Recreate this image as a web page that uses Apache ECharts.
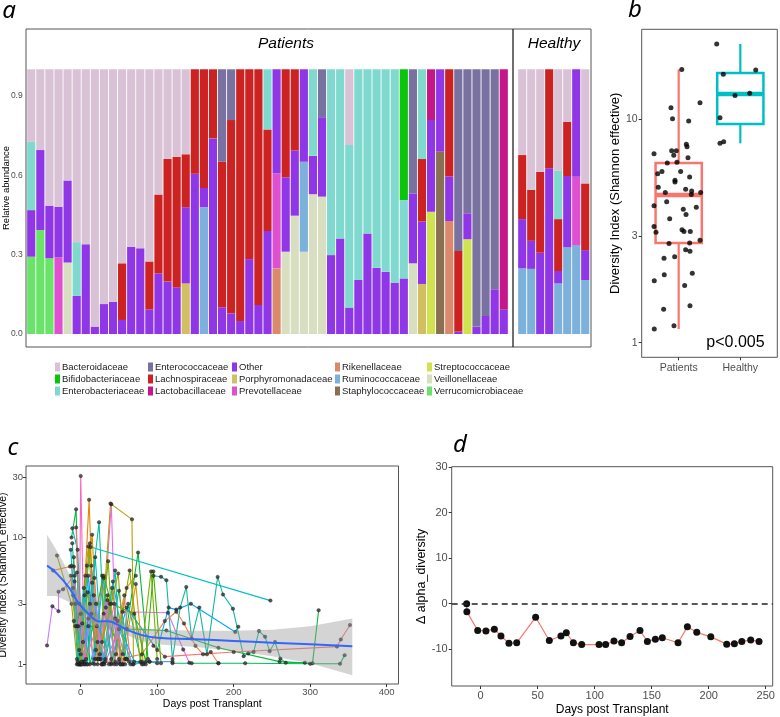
<!DOCTYPE html>
<html><head><meta charset="utf-8">
<script src="https://cdn.jsdelivr.net/npm/echarts@6/dist/echarts.min.js"></script>
<style>html,body{margin:0;padding:0;background:#fff}#c{width:780px;height:717px}</style>
</head><body><div id="c"></div><script>
// ---------- Panel a: relative abundance ----------
const families = ['Bacteroidaceae','Bifidobacteriaceae','Enterobacteriaceae','Enterococcaceae','Lachnospiraceae','Lactobacillaceae','Other','Porphyromonadaceae','Prevotellaceae','Rikenellaceae','Ruminococcaceae','Staphylococcaceae','Streptococcaceae','Veillonellaceae','Verrucomicrobiaceae'];
const familyColors = ['#D9C2D5','#0BC50B','#7FD9CF','#7971A0','#CC2222','#C5168A','#8F37E6','#D2BF62','#DE50D0','#DA896A','#7CB1DC','#8A7052','#D1E24F','#D8DEC0','#69E469'];
const patientIds = ['P1','P2','P3','P4','P5','P6','P7','P8','P9','P10','P11','P12','P13','P14','P15','P16','P17','P18','P19','P20','P21','P22','P23','P24','P25','P26','P27','P28','P29','P30','P31','P32','P33','P34','P35','P36','P37','P38','P39','P40','P41','P42','P43','P44','P45','P46','P47','P48','P49','P50','P51','P52','P53'];
const healthyIds = ['H1','H2','H3','H4','H5','H6','H7','H8'];

const bacteroidaceaeP = [.274,.305,.515,.519,.420,.653,.661,.972,.887,.878, .733,.670,.676,.726,.473,.339,.330,.321,0,0, 0,0,0,0,0,0,0,0,0,0, 0,0,0,0,0,.286,0,0,0,0, 0,0,0,0,0,0,0,0,0,0, 0,0,0];
const bifidobacteriaceaeP = [0,0,0,0,0,0,0,0,0,0, 0,0,0,0,0,0,0,0,0,0, 0,0,0,0,0,0,0,0,0,0, 0,0,0,0,0,0,0,0,0,0, 0,.494,0,0,0,0,0,0,0,0, 0,0,0];
const enterobacteriaceaeP = [.258,0,0,0,0,.203,0,0,0,0, 0,0,0,0,0,0,0,0,0,0, 0,0,0,0,0,0,.227,0,0,0, 0,.327,0,.702,.639,.614,.796,.620,.750,.765, .806,.296,0,.339,0,0,0,0,0,0, 0,0,0];
const enterococcaceaeP = [0,0,0,0,0,0,0,0,0,0, 0,0,0,0,0,0,0,0,0,0, 0,.349,.192,0,0,0,0,0,0,0, 0,0,.181,0,0,0,0,0,0,0, 0,0,.469,0,0,0,0,.686,.544,.972, .932,.831,0];
const lachnospiraceaeP = [0,0,0,0,0,0,0,0,0,0, .214,0,0,.181,.298,.463,.494,.200,.395,.448, .261,.550,.730,.951,.717,.890,.384,0,.408,.307, 0,0,0,0,0,0,0,0,0,0, 0,0,0,.236,0,0,.405,.305,0,0, 0,0,0];
const lactobacillaceaeP = [0,0,0,0,0,0,0,0,0,0, 0,0,0,0,0,0,0,0,0,0, 0,0,0,0,0,0,0,0,0,0, 0,0,0,0,0,0,0,0,0,0, 0,0,0,0,.192,0,0,0,0,0, 0,0,.907];
const otherP = [.176,.302,.199,.191,.310,.144,.339,.028,.113,.122, .053,.330,.324,.093,.229,.198,.176,.288,.605,.073, .739,.101,.078,.049,.283,.110,.389,.393,.281,.246, .349,.145,.300,.298,.361,.100,.204,.380,.250,.235, .194,.210,.264,.236,.346,.311,.168,.009,.098,.028, .068,.169,.093];
const porphyromonadaceaeP = [0,0,0,0,0,0,0,0,0,0, 0,0,0,0,0,0,0,.191,0,0, 0,0,0,0,0,0,0,0,0,0, 0,0,0,0,0,0,0,0,0,0, 0,0,0,.189,0,0,0,0,0,0, 0,0,0];
const prevotellaceaeP = [0,0,0,.290,0,0,0,0,0,0, 0,0,0,0,0,0,0,0,0,0, 0,0,0,0,0,0,0,.359,0,0, 0,0,0,0,0,0,0,0,0,0, 0,0,0,0,0,0,0,0,0,0, 0,0,0];
const rikenellaceaeP = [0,0,0,0,0,0,0,0,0,0, 0,0,0,0,0,0,0,0,0,0, 0,0,0,0,0,0,0,.248,0,0, 0,0,0,0,0,0,0,0,0,0, 0,0,0,0,0,0,.427,0,0,0, 0,0,0];
const ruminococcaceaeP = [0,0,0,0,0,0,0,0,0,0, 0,0,0,0,0,0,0,0,0,.479, 0,0,0,0,0,0,0,0,0,0, .340,0,0,0,0,0,0,0,0,0, 0,0,0,0,0,0,0,0,0,0, 0,0,0];
const staphylococcaceaeP = [0,0,0,0,0,0,0,0,0,0, 0,0,0,0,0,0,0,0,0,0, 0,0,0,0,0,0,0,0,0,0, 0,0,0,0,0,0,0,0,0,0, 0,0,0,0,0,.689,0,0,0,0, 0,0,0];
const streptococcaceaeP = [0,0,0,0,0,0,0,0,0,0, 0,0,0,0,0,0,0,0,0,0, 0,0,0,0,0,0,0,0,0,0, 0,0,0,0,0,0,0,0,0,0, 0,0,0,0,.462,0,0,0,.358,0, 0,0,0];
const veillonellaceaeP = [0,0,0,0,.270,0,0,0,0,0, 0,0,0,0,0,0,0,0,0,0, 0,0,0,0,0,0,0,0,.311,.447, .311,.528,.519,0,0,0,0,0,0,0, 0,0,.267,0,0,0,0,0,0,0, 0,0,0];
const verrucomicrobiaceaeP = [.292,.393,.286,0,0,0,0,0,0,0, 0,0,0,0,0,0,0,0,0,0, 0,0,0,0,0,0,0,0,0,0, 0,0,0,0,0,0,0,0,0,0, 0,0,0,0,0,0,0,0,0,0, 0,0,0];

const bacteroidaceaeH = [.324,.455,.387,0,.383,.198,0,.431];
const enterobacteriaceaeH = [0,0,0,0,.183,0,0,0];
const lachnospiraceaeH = [.242,.193,.306,.374,.196,.205,0,.252];
const otherH = [.186,.106,.307,.626,.047,.270,.406,.113];
const prevotellaceaeH = [0,0,0,0,0,0,.258,0];
const ruminococcaceaeH = [.248,.246,0,0,.191,.327,.336,.204];

const patientSets = [bacteroidaceaeP,bifidobacteriaceaeP,enterobacteriaceaeP,enterococcaceaeP,lachnospiraceaeP,lactobacillaceaeP,otherP,porphyromonadaceaeP,prevotellaceaeP,rikenellaceaeP,ruminococcaceaeP,staphylococcaceaeP,streptococcaceaeP,veillonellaceaeP,verrucomicrobiaceaeP];
const healthySets = [bacteroidaceaeH,null,enterobacteriaceaeH,null,lachnospiraceaeH,null,otherH,null,prevotellaceaeH,null,ruminococcaceaeH,null,null,null,null];
const abundanceTicks = [0,0.3,0.6,0.9];

// ---------- Panel b: diversity box plot ----------
const groupNames = ['Patients','Healthy'];
const boxColors = ['#F8766D','#00BFC4'];
const patientsBox = [1.15,2.79,4.56,6.34,16.6];   // lower whisker, Q1, median, Q3, upper whisker
const healthyBox = [7.77,9.47,12.9,16.0,21.6];
const patientsDiversity = [16.6,11.2,11.8,10.0,9.77,6.98,7.2,7.2,7.69,7.5,6.87,6.70,6.34,6.39,5.82,5.68,5.82,5.31,5.22,5.49,4.94,4.69,4.84,4.76,4.59,4.69,4.26,4.09,4.02,3.94,3.74,3.58,3.30,3.11,3.19,3.14,3.14,2.87,2.77,2.79,2.60,2.42,2.38,2.56,2.01,2.04,1.89,1.80,1.41,1.46,1.15,1.19];
const patientsJitter = [0.05,-0.125,0.346,-0.10,0.162,-0.40,-0.114,-0.039,0.124,0.135,-0.08,0.151,-0.185,-0.028,-0.271,-0.341,0.032,-0.06,-0.06,0.178,-0.331,-0.217,0.113,0.211,0.205,0.357,-0.195,-0.40,0.286,0.075,0.119,-0.146,-0.40,-0.368,0.054,0.086,0.188,0.346,-0.157,0.178,0.113,-0.065,-0.238,0.183,-0.234,0.221,-0.396,0.097,-0.244,0.183,-0.396,-0.076];
const healthyDiversity = [21.6,15.8,16.5,12.7,13.0,10.1,7.77,7.9];
const healthyJitter = [-0.383,-0.276,0.25,-0.086,0.153,-0.33,-0.33,-0.27];
const diversityTicks = [1,3,10];

// ---------- Panel c: diversity over time ----------
const t01 = [[-44,1.41],[-37,2.87],[-29,2.62],[-29,3.74],[-23,3.9],[-5,5.3],[2,2.1],[8,1.0],[15,4.4],[22,1.5],[30,1.02]];
const t02 = [[-31,7.2],[-12,3.0],[-5,1.1],[10,8.5],[20,1.3],[35,3.5],[50,1.05]];
const t03 = [[-36,5.5],[-14,5.9],[-9,5.9],[0,1.0],[11,19.8],[18,1.1],[28,5.0],[40,1.0],[60,4.0],[72,5.0]];
const t04 = [[-10,4.0],[-2,1.0],[0,30.5],[5,1.0],[14,6.0],[25,1.2],[38,3.0],[55,1.0]];
const t05 = [[-12,10.0],[-6,16.7],[-2,1.3],[6,5.0],[12,1.0],[30,2.5],[55,1.2],[75,7.6],[88,1.1]];
const t06 = [[-11,11.8],[-4,8.0],[3,1.05],[24,13.2],[32,1.1],[45,5.5],[52,1.0],[62,3.0],[80,1.0]];
const t07 = [[-8,5.0],[0,1.2],[12,3.0],[28,1.5],[40,18.3],[46,1.2],[55,2.6],[114,2.55],[134,1.31],[142,1.03]];
const t08 = [[25,1.1],[39,18.5],[67,13.9],[69,1.0],[80,1.05]];
const t09 = [[-5,1.0],[5,3.5],[13,8.4],[248,3.18]];
const t10 = [[-3,1.0],[10,5.0],[20,1.1],[40,1.02],[60,2.8],[100,1.3],[115,2.8],[125,2.7],[144,3.0],[202,1.8],[206,1.98]];
const t11 = [[95,5.0],[105,4.9],[112,4.6],[120,1.1],[130,2.8],[138,4.07],[145,1.6],[155,2.8],[165,1.2],[179,4.89],[186,3.55],[199,2.74],[213,1.16],[219,1.22],[226,1.25],[233,1.83],[241,1.65],[247,1.27],[254,1.5],[261,1.11],[268,1.03],[293,1.03]];
const t12 = [[60,1.9],[112,1.85],[180,1.35],[260,1.05],[303,1.02],[311,2.67]];
const t13 = [[95,1.4],[110,1.15],[200,1.25],[335,1.38],[340,1.57],[352,2.04]];
const t14 = [[120,1.02],[145,1.02],[180,1.02],[215,1.02],[300,1.01],[339,1.01],[345,1.18]];
const t15 = [[50,1.1],[80,1.2],[110,2.2],[125,2.6],[135,2.1],[150,1.4],[160,1.2],[170,1.25],[180,1.02]];
const t16 = [[-12,6.0],[-3,2.0],[5,1.05],[18,4.8],[26,1.1],[35,3.2],[45,1.05]];
const t17 = [[-7,3.0],[-1,1.0],[8,6.0],[16,1.02],[30,4.8],[40,1.1],[48,2.2],[70,1.05]];
const t18 = [[-9,7.0],[-3,1.0],[12,9.0],[22,1.0],[36,6.5],[44,1.0],[64,5.5],[78,1.05],[92,5.4],[100,1.1]];
const t19 = [[0,2.5],[15,10.5],[23,1.1],[41,4.0],[55,1.0],[72,4.3],[82,1.0]];
const t20 = [[-5,2.0],[5,1.0],[30,5.0],[40,3.0],[70,2.5],[85,1.05],[95,5.4],[105,1.02]];
const t21 = [[-10,3.5],[0,1.0],[20,3.0],[28,1.0],[45,2.3],[58,1.1]];
const t22 = [[-11,9.0],[-1,1.02],[10,2.3],[32,1.05],[50,3.8],[63,1.05],[90,1.05],[100,1.02]];
const t23 = [[-8,4.5],[3,1.5],[10,2.0],[18,1.0],[33,2.8],[47,1.0],[60,1.1]];
const t24 = [[-6,12.0],[1,1.0],[14,2.5],[27,1.0],[44,3.0],[52,1.0]];
const t25 = [[-13,8.0],[-4,1.05],[4,4.0],[9,1.0],[19,7.0],[29,1.0],[42,4.5],[60,1.1],[85,1.0]];
const t26 = [[-9,2.2],[2,1.0],[17,3.5],[31,1.0],[50,1.9],[68,1.0],[90,1.05],[120,1.05]];
const t27 = [[-2,3.0],[7,1.1],[21,2.0],[37,1.0],[57,3.5],[65,1.0]];
const t28 = [[-13,5.0],[-7,2.0],[1,1.05],[9,3.7],[23,1.1],[49,5.2],[58,1.0]];
const trajectories = [t01,t02,t03,t04,t05,t06,t07,t08,t09,t10,t11,t12,t13,t14,t15,t16,t17,t18,t19,t20,t21,t22,t23,t24,t25,t26,t27,t28];
const trajectoryColors = ['#C77CFF','#A3A500','#E58700','#FF61C3','#00BA38','#00C19F','#E76BF3','#B79F00','#00BFC4','#00A9FF','#14B8A0','#00BA38','#F8766D','#00BD5C','#F07E4F','#FA62DB','#00B4EF','#7CAE00','#D89000','#39B600','#9590FF','#00C08B','#C77CFF','#FF6C91','#00BFC4','#619CFF','#F8766D','#8BAB00'];
const smoothDays  = [-44,-32,-15,-6,0,10,18,25,35,45,60,80,100,150,200,250,300,355];
const smoothFit   = [6.0,5.25,4.0,3.24,2.9,2.5,2.26,2.18,2.19,2.1,1.88,1.7,1.62,1.58,1.53,1.48,1.44,1.39];
const smoothLower = [3.45,3.45,3.1,2.6,2.4,2.15,2.0,1.95,1.97,1.9,1.7,1.52,1.44,1.37,1.28,1.16,1.02,0.82];
const smoothUpper = [10.5,8.0,5.2,4.0,3.5,2.9,2.55,2.45,2.45,2.33,2.08,1.92,1.87,1.84,1.84,1.87,2.0,2.3];
const timeTicks = [0,100,200,300,400];
const shannonTicks = [1,3,10,30];

// ---------- Panel d: delta alpha diversity ----------
const dDays  = [-12.3,-12.1,-2.6,4.6,12,17.8,24.8,31.6,48.2,60.2,70.4,75.1,81.3,88.6,103.8,109.6,116.9,123.6,131,139.7,146.2,153.2,159.3,173.1,181.3,189.5,201.8,215.8,222.5,229,236.8,244.1];
const dDelta = [0,-1.76,-5.9,-6.0,-5.6,-7.1,-8.7,-8.6,-3.0,-8.1,-7.1,-6.4,-8.6,-9.0,-9.0,-9.0,-8.2,-8.6,-7.2,-5.9,-8.3,-7.8,-7.5,-8.6,-5.1,-6.3,-7.3,-8.9,-8.8,-8.3,-8.0,-8.3];
const dDayTicks = [0,50,100,150,200,250];
const dDeltaTicks = [-10,0,10,20,30];

// ---------- build ----------
const FONT = '"Liberation Sans", Arial, Helvetica, sans-serif';
const L = v => Math.log10(v);
const series = [];
for (let k = families.length - 1; k >= 0; k--) {
  series.push({type:'bar', name:families[k], xAxisIndex:0, yAxisIndex:0, stack:'pat', data:patientSets[k],
    barCategoryGap:'10%', itemStyle:{color:familyColors[k]}, silent:true});
  if (healthySets[k]) series.push({type:'bar', name:families[k], xAxisIndex:1, yAxisIndex:1, stack:'hea', data:healthySets[k],
    barCategoryGap:'10%', itemStyle:{color:familyColors[k]}, silent:true});
}
// panel b
const boxes = [patientsBox, healthyBox];
series.push({type:'custom', xAxisIndex:2, yAxisIndex:2, silent:true, z:2,
  data: boxes.map((b,i)=>[i+1, L(b[0]), L(b[1]), L(b[2]), L(b[3]), L(b[4])]),
  encode:{x:0, y:[1,2,3,4,5]},
  renderItem:function(params, api){
    const x = api.value(0);
    const pts = [1,2,3,4,5].map(j=>api.coord([x, api.value(j)]));
    const hw = api.size([0.75,0])[0]/2;
    const col = boxColors[params.dataIndex];
    return {type:'group', children:[
      {type:'line', shape:{x1:pts[0][0],y1:pts[0][1],x2:pts[1][0],y2:pts[1][1]}, style:{stroke:col,lineWidth:2.2}},
      {type:'line', shape:{x1:pts[3][0],y1:pts[3][1],x2:pts[4][0],y2:pts[4][1]}, style:{stroke:col,lineWidth:2.2}},
      {type:'rect', shape:{x:pts[3][0]-hw,y:pts[3][1],width:2*hw,height:pts[1][1]-pts[3][1]}, style:{fill:'#fff',stroke:col,lineWidth:2.5}},
      {type:'line', shape:{x1:pts[2][0]-hw,y1:pts[2][1],x2:pts[2][0]+hw,y2:pts[2][1]}, style:{stroke:col,lineWidth:4.5}}
    ]};
  }});
series.push({type:'scatter', xAxisIndex:2, yAxisIndex:2, silent:true, z:3, symbolSize:5,
  itemStyle:{color:'#000'},
  data: patientsDiversity.map((v,i)=>[1+patientsJitter[i], L(v)]).concat(healthyDiversity.map((v,i)=>[2+healthyJitter[i], L(v)]))});
// panel c
trajectories.forEach((t,i)=>{
  series.push({type:'line', xAxisIndex:3, yAxisIndex:3, silent:true, z:2, showSymbol:false,
    lineStyle:{color:trajectoryColors[i], width:1.1}, data:t.map(p=>[p[0], L(p[1])])});
});
series.push({type:'scatter', xAxisIndex:3, yAxisIndex:3, silent:true, z:3, symbolSize:3.5,
  itemStyle:{color:'#333', borderColor:'#000', borderWidth:0.4},
  data: trajectories.flat().map(p=>[p[0], L(p[1])])});
series.push({type:'custom', xAxisIndex:3, yAxisIndex:3, silent:true, z:4,
  data: [[smoothDays[0], L(smoothFit[0])]], encode:{x:0, y:1},
  renderItem:function(params, api){
    const up = smoothDays.map((d,i)=>api.coord([d, L(smoothUpper[i])]));
    const lo = smoothDays.map((d,i)=>api.coord([d, L(smoothLower[i])])).reverse();
    return {type:'polygon', shape:{points:up.concat(lo)}, style:{fill:'rgba(153,153,153,0.42)'}};
  }});
series.push({type:'line', xAxisIndex:3, yAxisIndex:3, silent:true, z:5, showSymbol:false, smooth:true,
  lineStyle:{color:'#3366FF', width:2}, data: smoothDays.map((d,i)=>[d, L(smoothFit[i])])});
// panel d
series.push({type:'line', xAxisIndex:4, yAxisIndex:4, silent:true, z:3, symbol:'circle', symbolSize:7,
  itemStyle:{color:'#111'}, lineStyle:{color:'#F8766D', width:1.2},
  data: dDays.map((d,i)=>[d, dDelta[i]]),
  markLine:{silent:true, symbol:['none','none'], label:{show:false},
    lineStyle:{color:'#222', type:[6,4], width:1.6}, data:[{yAxis:0}]}});

const hiddenCat = (gi, data)=>({type:'category', gridIndex:gi, data, axisLine:{show:false}, axisTick:{show:false}, axisLabel:{show:false}, splitLine:{show:false}});
const tickStyle = {lineStyle:{color:'#333', width:1}, length:3};
const labStyle = (fs, margin)=>({fontSize:fs, color:'#4d4d4d', fontFamily:FONT, margin});
const noLine = {show:false, onZero:false};

const legendCols = [[0,1,2],[3,4,5],[6,7,8],[9,10,11],[12,13,14]];
const legendLeft = [55, 148, 232, 335, 427];

const option = {
  animation:false,
  backgroundColor:'#fff',
  color: familyColors,
  grid:[
    {left:26.7, top:69.3, width:481.6, height:264.7, containLabel:false, outerBoundsMode:'none'},
    {left:517.7, top:69.3, width:72, height:264.7, containLabel:false, outerBoundsMode:'none'},
    {left:641.7, top:29.3, width:135.6, height:328, show:true, borderColor:'#555', borderWidth:1, containLabel:false, outerBoundsMode:'none'},
    {left:26, top:466, width:372.5, height:218, show:true, borderColor:'#555', borderWidth:1, containLabel:false, outerBoundsMode:'none'},
    {left:451.7, top:466.7, width:321, height:219.3, show:true, borderColor:'#555', borderWidth:1, containLabel:false, outerBoundsMode:'none'}
  ],
  xAxis:[
    hiddenCat(0, patientIds),
    hiddenCat(1, healthyIds),
    {type:'value', gridIndex:2, min:0.4, max:2.6, axisLine:noLine, splitLine:{show:false},
      axisTick:Object.assign({customValues:[1,2]}, tickStyle),
      axisLabel:Object.assign({customValues:[1,2], formatter:v=>groupNames[Math.round(v)-1]}, labStyle(10.5,5))},
    {type:'value', gridIndex:3, min:-71.5, max:415.4, axisLine:noLine, splitLine:{show:false},
      axisTick:Object.assign({customValues:timeTicks}, tickStyle),
      axisLabel:Object.assign({customValues:timeTicks}, labStyle(9.5,3)),
      name:'Days post Transplant', nameLocation:'middle', nameGap:15, nameTextStyle:{fontSize:10.5, color:'#000', fontFamily:FONT}},
    {type:'value', gridIndex:4, min:-25.4, max:256.1, axisLine:noLine, splitLine:{show:false},
      axisTick:Object.assign({customValues:dDayTicks}, tickStyle),
      axisLabel:Object.assign({customValues:dDayTicks}, labStyle(11,4)),
      name:'Days post Transplant', nameLocation:'middle', nameGap:18, nameTextStyle:{fontSize:12, color:'#000', fontFamily:FONT}}
  ],
  yAxis:[
    {type:'value', gridIndex:0, min:0, max:1, axisLine:noLine, splitLine:{show:false},
      axisTick:Object.assign({customValues:abundanceTicks}, tickStyle),
      axisLabel:Object.assign({customValues:abundanceTicks, formatter:v=>v.toFixed(1)}, labStyle(8.5,4))},
    {type:'value', gridIndex:1, min:0, max:1, show:false},
    {type:'value', gridIndex:2, min:L(0.86), max:L(25.1), axisLine:noLine, splitLine:{show:false},
      axisTick:Object.assign({customValues:diversityTicks.map(L)}, tickStyle),
      axisLabel:Object.assign({customValues:diversityTicks.map(L), formatter:v=>String(Math.round(Math.pow(10,v)))}, labStyle(10.5,4)),
      name:'Diversity Index (Shannon effective)', nameLocation:'middle', nameGap:17, nameTextStyle:{fontSize:13, color:'#000', fontFamily:FONT}},
    {type:'value', gridIndex:3, min:L(0.70), max:L(36.6), axisLine:noLine, splitLine:{show:false},
      axisTick:Object.assign({customValues:shannonTicks.map(L)}, tickStyle),
      axisLabel:Object.assign({customValues:shannonTicks.map(L), formatter:v=>String(Math.round(Math.pow(10,v)))}, labStyle(9.5,3)),
      name:'Diversity index (Shannon_effective)', nameLocation:'middle', nameGap:13, nameTextStyle:{fontSize:10.5, color:'#000', fontFamily:FONT}},
    {type:'value', gridIndex:4, min:-18.1, max:30.1, axisLine:noLine, splitLine:{show:false},
      axisTick:Object.assign({customValues:dDeltaTicks}, tickStyle),
      axisLabel:Object.assign({customValues:dDeltaTicks}, labStyle(11,4)),
      name:'Δ alpha_diversity', nameLocation:'middle', nameGap:24, nameTextStyle:{fontSize:12.5, color:'#000', fontFamily:FONT}}
  ],
  legend: legendCols.map((col,i)=>({
    orient:'vertical', left:legendLeft[i], top:361, padding:0, itemGap:0, itemWidth:5, itemHeight:9,
    icon:'rect', selectedMode:false, data: col.map(k=>families[k]),
    textStyle:{fontSize:9.5, color:'#1a1a1a', fontFamily:FONT, lineHeight:12, padding:[0,0,0,-3]}
  })),
  graphic:[
    {type:'rect', silent:true, shape:{x:26, y:29, width:565, height:318}, style:{fill:'none', stroke:'#555', lineWidth:1}},
    {type:'line', silent:true, shape:{x1:513, y1:29, x2:513, y2:347}, style:{stroke:'#222', lineWidth:1.3}},
    {type:'text', silent:true, x:286, y:44, style:{text:'Patients', fontSize:15.5, fontStyle:'italic', fontFamily:FONT, fill:'#000', align:'center', verticalAlign:'middle'}},
    {type:'text', silent:true, x:554, y:44, style:{text:'Healthy', fontSize:15.5, fontStyle:'italic', fontFamily:FONT, fill:'#000', align:'center', verticalAlign:'middle'}},
    {type:'text', silent:true, x:6, y:188, rotation:Math.PI/2, style:{text:'Relative abundance', fontSize:9.5, fontFamily:FONT, fill:'#000', align:'center', verticalAlign:'middle'}},
    {type:'text', silent:true, x:735.5, y:343, style:{text:'p<0.005', fontSize:16, fontFamily:FONT, fill:'#000', align:'center', verticalAlign:'middle'}},
    {type:'text', silent:true, x:9, y:11, style:{text:'a', fontSize:24, fontStyle:'italic', fontFamily:'"Noto Sans", sans-serif', fill:'#000', align:'center', verticalAlign:'middle'}},
    {type:'text', silent:true, x:635, y:10, style:{text:'b', fontSize:24, fontStyle:'italic', fontFamily:'"Noto Sans", sans-serif', fill:'#000', align:'center', verticalAlign:'middle'}},
    {type:'text', silent:true, x:13, y:448, style:{text:'c', fontSize:24, fontStyle:'italic', fontFamily:'"Noto Sans", sans-serif', fill:'#000', align:'center', verticalAlign:'middle'}},
    {type:'text', silent:true, x:460, y:445, style:{text:'d', fontSize:24, fontStyle:'italic', fontFamily:'"Noto Sans", sans-serif', fill:'#000', align:'center', verticalAlign:'middle'}}
  ],
  series
};
const chart = echarts.init(document.getElementById('c'), null, {renderer:'canvas'});
chart.setOption(option);
</script></body></html>
